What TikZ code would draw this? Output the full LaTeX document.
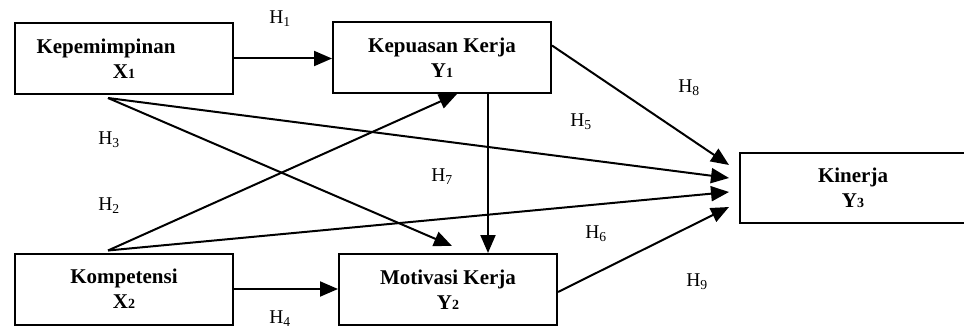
\documentclass[tikz,border=0pt]{standalone}
\usepackage{fontspec}
\setmainfont{Liberation Serif}
\usetikzlibrary{arrows.meta}
\newcommand{\varidx}[1]{{\fontsize{14}{14}\selectfont #1}}

\begin{document}
\begin{tikzpicture}[x=1pt, y=-1pt, every path/.style={line width=2pt}, box/.style={draw, minimum width=218pt, minimum height=71pt, inner sep=0pt, align=center, font=\fontsize{21}{25}\selectfont\bfseries}, hyp/.style={font=\fontsize{19.5}{19.5}\selectfont}, link/.style={-{Triangle[length=18pt,width=15pt]}}]
    \useasboundingbox (0,0) rectangle (964,334);
    \node[box] (X1) at (124,58.5) {Kepemimpinan\hspace*{36pt}\\X\varidx{1}};
    \node[box] (Y1) at (442,57.5) {Kepuasan Kerja\\Y\varidx{1}};
    \node[box] (X2) at (124,289) {Kompetensi\\X\varidx{2}};
    \node[box] (Y2) at (448,289.5) {Motivasi Kerja\\Y\varidx{2}};
    \node[box, minimum width=226pt, minimum height=70pt] (Y3) at (853,188) {Kinerja\\Y\varidx{3}};
    \draw[link] (X1.east) -- (X1.east -| Y1.west);
    \draw[link] ([xshift=-16pt,yshift=-3pt]X1.south) -- ([xshift=-10pt,yshift=10pt]Y3.west);
    \draw[link] ([xshift=-16pt,yshift=-3pt]X1.south) -- ([xshift=4pt,yshift=7pt]Y2.north);
    \draw[link] ([xshift=46pt]Y1.south) -- ([xshift=46pt]Y1.south |- Y2.north);
    \draw[link] ([xshift=-16pt,yshift=2pt]X2.north) -- ([xshift=15pt]Y1.south);
    \draw[link] ([xshift=-16pt,yshift=2pt]X2.north) -- ([xshift=-10pt,yshift=-4pt]Y3.west);
    \draw[link] (X2.east) -- (X2.east -| Y2.west);
    \draw[link] ([yshift=12pt]Y1.east) -- ([xshift=-10pt,yshift=23pt]Y3.west);
    \draw[link] ([yshift=-2.5pt]Y2.east) -- ([xshift=-10pt,yshift=-19pt]Y3.west);
    \node[hyp] (h1) at (280,19) {H\textsubscript{1}};
    \node[hyp] (h2) at (109,206) {H\textsubscript{2}};
    \node[hyp] (h3) at (109,140) {H\textsubscript{3}};
    \node[hyp] (h4) at (280,319) {H\textsubscript{4}};
    \node[hyp] (h5) at (581,122) {H\textsubscript{5}};
    \node[hyp] (h6) at (596,234) {H\textsubscript{6}};
    \node[hyp] (h7) at (442,177) {H\textsubscript{7}};
    \node[hyp] (h8) at (689,88) {H\textsubscript{8}};
    \node[hyp] (h9) at (697,282) {H\textsubscript{9}};
\end{tikzpicture}
\end{document}
